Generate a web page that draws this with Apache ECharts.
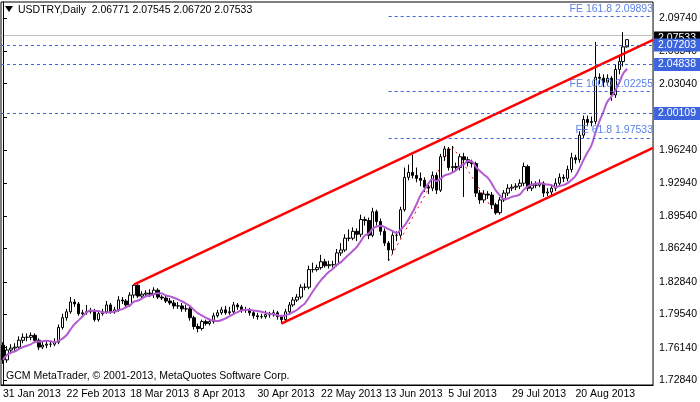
<!DOCTYPE html>
<html><head><meta charset="utf-8">
<script src="https://cdn.jsdelivr.net/npm/echarts@6/dist/echarts.min.js"></script>
<style>html,body{margin:0;padding:0;background:#fff}#c{width:700px;height:402px}</style>
</head><body><div id="c"></div>
<script>
const xLabels = ['31 Jan 2013','22 Feb 2013','18 Mar 2013','8 Apr 2013','30 Apr 2013','22 May 2013','13 Jun 2013','5 Jul 2013','29 Jul 2013','20 Aug 2013'];
const yTicks = [1.72840,1.76140,1.79540,1.82840,1.86240,1.89540,1.92940,1.96240,1.99640,2.03040,2.06340,2.09740];
const firstOpen = 1.764;
const closes = [1.749,1.759,1.761,1.762,1.769,1.772,1.772,1.774,1.769,1.762,
1.764,1.765,1.765,1.767,1.782,1.792,1.798,1.808,1.806,1.796,
1.797,1.798,1.799,1.790,1.796,1.798,1.805,1.798,1.800,1.810,
1.809,1.805,1.815,1.825,1.814,1.816,1.817,1.816,1.820,1.813,
1.812,1.809,1.807,1.804,1.804,1.801,1.801,1.792,1.783,1.781,
1.788,1.786,1.788,1.794,1.797,1.800,1.797,1.798,1.805,1.803,
1.800,1.800,1.797,1.794,1.793,1.793,1.795,1.795,1.797,1.793,
1.790,1.798,1.805,1.810,1.813,1.823,1.823,1.841,1.841,1.843,
1.849,1.845,1.846,1.846,1.858,1.861,1.873,1.873,1.880,1.877,
1.892,1.891,1.876,1.900,1.890,1.880,1.868,1.861,1.876,1.876,
1.902,1.935,1.940,1.937,1.934,1.932,1.925,1.924,1.937,1.922,
1.956,1.964,1.945,1.946,1.945,1.956,1.953,1.950,1.949,1.919,
1.912,1.918,1.917,1.907,1.899,1.912,1.919,1.924,1.925,1.926,
1.929,1.946,1.924,1.927,1.927,1.929,1.919,1.920,1.924,1.929,
1.935,1.934,1.943,1.955,1.953,1.978,1.994,1.991,1.992,2.037,
2.036,2.032,2.036,2.019,2.045,2.053,2.068,2.07533];
const highs = [1.767,1.763,1.765,1.766,1.773,1.776,1.776,1.777,1.776,1.771,
1.768,1.769,1.768,1.771,1.785,1.796,1.801,1.813,1.811,1.808,
1.800,1.805,1.802,1.801,1.799,1.801,1.809,1.807,1.803,1.814,
1.813,1.811,1.818,1.826,1.826,1.819,1.820,1.821,1.823,1.822,
1.815,1.814,1.812,1.810,1.808,1.807,1.805,1.803,1.794,1.786,
1.790,1.790,1.791,1.797,1.800,1.803,1.804,1.803,1.808,1.807,
1.805,1.803,1.802,1.799,1.797,1.796,1.799,1.798,1.800,1.799,
1.795,1.801,1.808,1.813,1.816,1.826,1.827,1.845,1.848,1.846,
1.856,1.852,1.850,1.850,1.862,1.868,1.877,1.882,1.884,1.883,
1.897,1.895,1.894,1.904,1.902,1.893,1.883,1.870,1.879,1.880,
1.905,1.945,1.948,1.958,1.945,1.940,1.935,1.930,1.941,1.940,
1.959,1.967,1.966,1.967,1.950,1.959,1.960,1.956,1.953,1.951,
1.922,1.922,1.921,1.920,1.909,1.915,1.922,1.928,1.928,1.929,
1.933,1.950,1.948,1.931,1.931,1.933,1.931,1.924,1.928,1.934,
1.939,1.938,1.947,1.960,1.958,1.982,1.998,1.998,1.997,2.073,
2.041,2.040,2.040,2.038,2.050,2.058,2.083,2.07545];
const lows = [1.745,1.746,1.755,1.758,1.760,1.766,1.768,1.769,1.766,1.759,
1.760,1.761,1.762,1.763,1.765,1.780,1.789,1.796,1.803,1.794,
1.793,1.795,1.796,1.788,1.788,1.794,1.796,1.796,1.796,1.798,
1.806,1.803,1.803,1.812,1.812,1.812,1.814,1.813,1.812,1.811,
1.810,1.807,1.805,1.801,1.801,1.798,1.798,1.789,1.780,1.777,
1.779,1.784,1.784,1.786,1.792,1.795,1.795,1.795,1.796,1.800,
1.797,1.797,1.794,1.791,1.790,1.791,1.791,1.792,1.793,1.790,
1.786,1.788,1.796,1.803,1.808,1.811,1.820,1.821,1.838,1.839,
1.841,1.843,1.842,1.843,1.844,1.855,1.859,1.870,1.871,1.870,
1.874,1.886,1.872,1.874,1.886,1.876,1.865,1.850,1.857,1.870,
1.873,1.900,1.932,1.934,1.930,1.926,1.920,1.918,1.921,1.918,
1.920,1.952,1.942,1.940,1.941,1.942,1.915,1.946,1.945,1.915,
1.908,1.909,1.913,1.903,1.897,1.897,1.910,1.916,1.921,1.922,
1.923,1.926,1.921,1.921,1.924,1.925,1.915,1.916,1.917,1.921,
1.926,1.930,1.931,1.940,1.949,1.950,1.975,1.987,1.987,1.989,
2.030,2.027,2.028,2.013,2.016,2.040,2.048,2.06720];
const upperChannel = [[33,1.826],[163.5,2.075]];
const lowerChannel = [[70,1.786],[163.5,1.965]];
const zigzag = [[97,1.850],[113,1.967],[124,1.897]];
const feLevels = [['FE 161.8',2.09893],['FE 100.0',2.02255],['FE 61.8',1.97533]];
const boxLevels = [2.07203,2.04838,2.00109];
const bidLevel = 2.07533;
const maPeriod = 8;

const n = 164;
const cats = Array.from({length:n},(_,i)=>String(i));
const ohlc = closes.map((c,i)=>{const o = i===0?firstOpen:closes[i-1]; return [o,c,lows[i],highs[i]];});
const ma = closes.map((c,i)=>{const s=closes.slice(Math.max(0,i-maPeriod+1),i+1);return +(s.reduce((a,b)=>a+b,0)/s.length).toFixed(5);});
const F = 'Liberation Sans';
const chart = echarts.init(document.getElementById('c'));
const blueDash = {color:'#3c64dc',type:[3,3],width:1};
chart.setOption({
  animation:false,
  grid:{left:1,top:2,width:656,height:383,containLabel:false,show:true,borderColor:'#000',borderWidth:1},
  xAxis:[{type:'category',data:cats,boundaryGap:true,
    axisLine:{lineStyle:{color:'#000'}},
    axisTick:{interval:15,alignWithLabel:true,length:4,lineStyle:{color:'#000'}},
    axisLabel:{interval:15,align:'left',margin:4,color:'#000',fontFamily:F,fontSize:10.5,
      formatter:(v,i)=>xLabels[Math.round(i/16)]||''},splitLine:{show:false}},
   {type:'value',min:-0.5,max:163.5,show:false}],
  yAxis:{type:'value',position:'right',min:1.7234,max:2.1137,scale:true,
    axisLine:{show:true,lineStyle:{color:'#000'}},
    axisTick:{show:true,customValues:yTicks,length:4,lineStyle:{color:'#000'}},
    axisLabel:{customValues:yTicks,color:'#000',fontFamily:F,fontSize:10.5,margin:6,formatter:v=>v.toFixed(5)},
    splitLine:{show:false}},
  series:[
   {type:'line',data:[],z:0,
    markLine:{symbol:'none',silent:true,z:0,
      data:[{yAxis:bidLevel,lineStyle:{color:'#c0c0c0',type:'solid',width:1},
             label:{show:true,position:'end',distance:1,offset:[0,3],formatter:bidLevel.toFixed(5),color:'#fff',backgroundColor:'#000',padding:[1,4],fontFamily:F,fontSize:10.5}}]}},
   {type:'candlestick',data:ohlc,barWidth:3,z:3,
    itemStyle:{color:'#fff',color0:'#000',borderColor:'#000',borderColor0:'#000',borderWidth:1},
    markLine:{symbol:'none',silent:true,z:6,animation:false,
      data:boxLevels.map(v=>({yAxis:v,lineStyle:blueDash,
             label:{show:true,position:'end',distance:1,formatter:v.toFixed(5),color:'#fff',backgroundColor:'#3c64dc',padding:[1,4],fontFamily:F,fontSize:10.5}}))}},
   {type:'line',data:ma,showSymbol:false,smooth:true,lineStyle:{color:'#b45ad2',width:2},z:4},
   {type:'line',xAxisIndex:1,data:upperChannel,showSymbol:false,lineStyle:{color:'#ff0000',width:2.5},z:5,clip:true},
   {type:'line',xAxisIndex:1,data:lowerChannel,showSymbol:false,lineStyle:{color:'#ff0000',width:2.5},z:5,clip:true},
   {type:'line',xAxisIndex:1,data:zigzag,showSymbol:false,lineStyle:{color:'#ff0000',width:1,type:[2,4]},z:2},
   {type:'line',xAxisIndex:1,data:[],showSymbol:false,
    markLine:{symbol:'none',silent:true,
      data:feLevels.map(([t,v])=>[{coord:[97,v],lineStyle:blueDash,
        label:{show:true,position:'insideEndTop',distance:[0,2],formatter:t+' '+v.toFixed(5),color:'#5a82e6',fontFamily:F,fontSize:10.5}},{coord:[163.5,v]}])}}
  ],
  graphic:[
   {type:'polygon',shape:{points:[[5,6],[13,6],[9,12]]},style:{fill:'#000'}},
   {type:'text',left:18,top:5,style:{text:'USDTRY,Daily  2.06771 2.07545 2.06720 2.07533',fill:'#000',font:'10.5px "Liberation Sans"'}},
   {type:'text',left:6,top:371,style:{text:'GCM MetaTrader, © 2001-2013, MetaQuotes Software Corp.',fill:'#000',font:'10.5px "Liberation Sans"'}}
  ]
});
</script></body></html>
